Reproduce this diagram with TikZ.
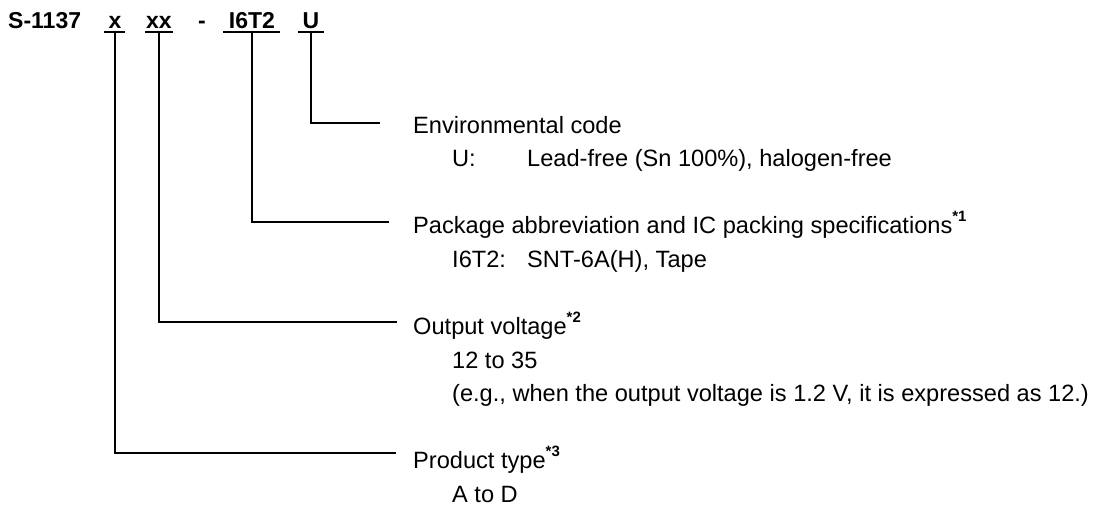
\documentclass[tikz,border=0pt]{standalone}
\usepackage{fontspec}
\setmainfont{Liberation Sans}
\begin{document}
\begin{tikzpicture}[x=1pt,y=-1pt,
  lbl/.style={anchor=base west, inner sep=0pt, font=\fontsize{23.6}{28}\selectfont},
  code/.style={anchor=base, inner sep=0pt, font=\fontsize{23}{28}\selectfont\bfseries},
  conn/.style={line width=1.6pt},
  uline/.style={line width=1.6pt}]
\newcommand{\starnote}[1]{\raisebox{12pt}{\fontsize{15}{15}\selectfont\bfseries *#1}}
\useasboundingbox (0,0) rectangle (1102,507);
% part number
\node[code, anchor=base west] (s) at (8,28) {S-1137};
\node[code] (cx) at (115,28) {x};
\node[code] (cxx) at (159,28) {xx};
\node[code] (cd) at (202,28) {-};
\node[code] (cpk) at (252,28) {I6T2};
\node[code] (cu) at (311,28) {U};
% underlines
\draw[uline] (104,32) -- (125,32);
\draw[uline] (145,32) -- (173,32);
\draw[uline] (223,32) -- (280,32);
\draw[uline] (298,32) -- (324,32);
% anchor coordinates
\coordinate (tx) at (115,32);
\coordinate (txx) at (159,32);
\coordinate (tpk) at (252,32);
\coordinate (tu) at (311,32);
\coordinate (ex) at (396,453);
\coordinate (exx) at (397,322);
\coordinate (epk) at (389,222);
\coordinate (eu) at (380,123);
% labels
\node[lbl] (lu) at (413,133) {Environmental code};
\node[lbl] (lu1) at (452,166.5) {U:};
\node[lbl] (lu2) at (527,166.5) {Lead-free (Sn 100\%), halogen-free};
\node[lbl] (lpk) at (413,233.5) {Package abbreviation and IC packing specifications\starnote{1}};
\node[lbl] (lpk1) at (452,267) {I6T2:};
\node[lbl] (lpk2) at (527,267) {SNT-6A(H), Tape};
\node[lbl] (lxx) at (413,334.5) {Output voltage\starnote{2}};
\node[lbl] (lxx1) at (452,368) {12 to 35};
\node[lbl] (lxx2) at (452,401.5) {(e.g., when the output voltage is 1.2 V, it is expressed as 12.)};
\node[lbl] (lx) at (413,468.5) {Product type\starnote{3}};
\node[lbl] (lx1) at (452,502) {A to D};
% connectors
\draw[conn] (tu) |- (eu);
\draw[conn] (tpk) |- (epk);
\draw[conn] (txx) |- (exx);
\draw[conn] (tx) |- (ex);
\end{tikzpicture}
\end{document}
